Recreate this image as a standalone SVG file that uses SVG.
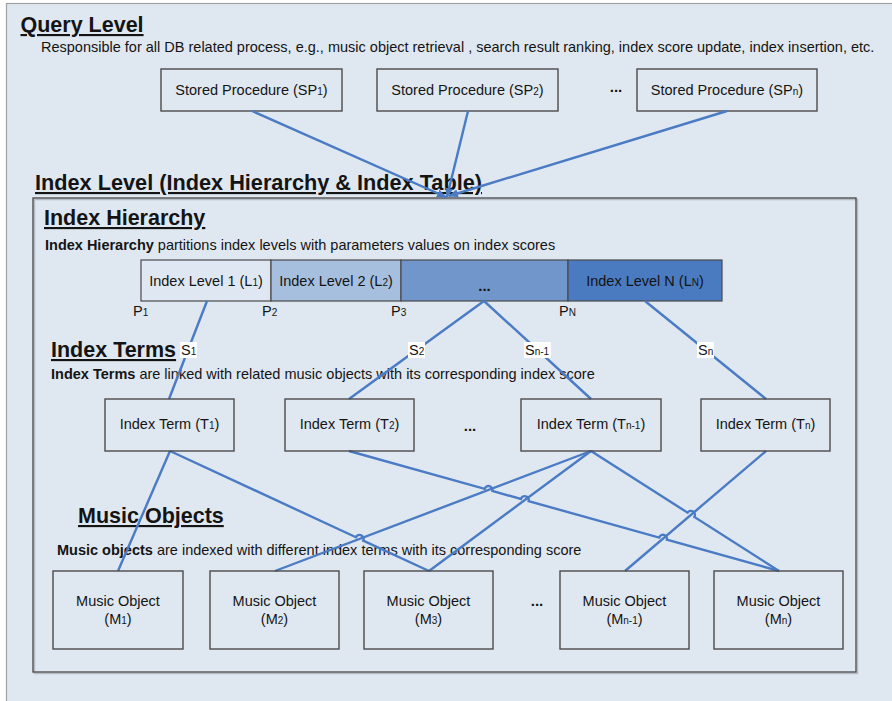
<svg xmlns="http://www.w3.org/2000/svg" width="892" height="701" viewBox="0 0 892 701">
<style>
text{font-family:"Liberation Sans",Arial,sans-serif;fill:#141414;}
.title{font-size:21.5px;font-weight:bold;text-decoration:underline;}
.sub{font-size:14.5px;}
.lbl{font-size:14.5px;text-anchor:middle;}
.s{font-size:10px;}
.b{font-weight:bold;}
.box{fill:none;stroke:#4a4a4a;stroke-width:1.4;}
.seg{stroke:#4a4a4a;stroke-width:1.2;}
.con{fill:none;stroke:#4a7bc4;stroke-width:2.4;}
.tag{fill:#ffffff;}
.dots{font-size:15px;font-weight:bold;text-anchor:middle;}
</style>
<defs>
<marker id="arr" viewBox="0 0 10 10" refX="9" refY="5" markerWidth="10" markerHeight="10" markerUnits="userSpaceOnUse" orient="auto">
<path d="M0,1 L10,5 L0,9 z" fill="#4a7bc4"/>
</marker>
</defs>
<rect x="0" y="0" width="892" height="701" fill="#ffffff"/>
<rect x="6.5" y="3.5" width="900" height="710" fill="#dfe8f1" stroke="#a0a0a0" stroke-width="1.2"/>

<g id="query-level">
<text class="title" x="20.5" y="32">Query Level</text>
<text class="sub" x="41" y="52">Responsible for all DB related process, e.g., music object retrieval , search result ranking, index score update, index insertion, etc.</text>
</g>

<g id="sp1"><rect class="box" x="161" y="69" width="181" height="42"/><text class="lbl" x="251.5" y="95">Stored Procedure (SP<tspan class="s">1</tspan>)</text></g>
<g id="sp2"><rect class="box" x="377" y="69" width="181" height="42"/><text class="lbl" x="467.5" y="95">Stored Procedure (SP<tspan class="s">2</tspan>)</text></g>
<g id="sp-dots"><text class="dots" x="616" y="92">...</text></g>
<g id="spn"><rect class="box" x="637" y="69" width="180" height="42"/><text class="lbl" x="727" y="95">Stored Procedure (SP<tspan class="s">n</tspan>)</text></g>

<g id="index-level">
<text class="title" x="35" y="190" textLength="447" lengthAdjust="spacingAndGlyphs">Index Level (Index Hierarchy &amp; Index Table)</text>
<rect x="34.5" y="199.5" width="823" height="474" fill="none" stroke="#b4bcc6" stroke-width="1.5"/>
<rect x="33" y="198" width="823" height="474" fill="none" stroke="#505050" stroke-width="1.4"/>
</g>

<g id="index-hierarchy">
<text class="title" x="44" y="225">Index Hierarchy</text>
<text class="sub" x="45" y="250"><tspan class="b">Index Hierarchy</tspan> partitions index levels with parameters values on index scores</text>
</g>

<g id="level-1"><rect class="seg" x="141" y="260" width="130" height="41" fill="#dfe8f2"/><text class="lbl" x="206" y="286">Index Level 1 (L<tspan class="s">1</tspan>)</text></g>
<g id="level-2"><rect class="seg" x="271" y="260" width="130" height="41" fill="#a6bfdf"/><text class="lbl" x="336" y="286">Index Level 2 (L<tspan class="s">2</tspan>)</text></g>
<g id="level-dots"><rect class="seg" x="401" y="260" width="167" height="41" fill="#7096cb"/><text class="dots" x="484.5" y="291">...</text></g>
<g id="level-n"><rect class="seg" x="568" y="260" width="154" height="41" fill="#4a7bc0"/><text class="lbl" x="645" y="286">Index Level N (L<tspan class="s">N</tspan>)</text></g>

<g id="p-labels">
<text class="sub" x="133" y="316">P<tspan class="s">1</tspan></text>
<text class="sub" x="262" y="316">P<tspan class="s">2</tspan></text>
<text class="sub" x="391" y="316">P<tspan class="s">3</tspan></text>
<text class="sub" x="559" y="316">P<tspan class="s">N</tspan></text>
</g>

<g id="index-terms">
<text class="title" x="51" y="357">Index Terms</text>
<text class="sub" x="51" y="379"><tspan class="b">Index Terms</tspan> are linked with related music objects with its corresponding index score</text>
</g>

<g id="music-objects">
<text class="title" x="78" y="523">Music Objects</text>
<text class="sub" x="57" y="555"><tspan class="b">Music objects</tspan> are indexed with different index terms with its corresponding score</text>
</g>

<g id="connectors">
<path class="con" d="M252,111 L446,197" marker-end="url(#arr)"/>
<path class="con" d="M468,111 L447,197" marker-end="url(#arr)"/>
<path class="con" d="M727,111 L449,196" marker-end="url(#arr)"/>
<path class="con" d="M207,301 L169,399"/>
<path class="con" d="M484,301 L349,399"/>
<path class="con" d="M484,301 L591,399"/>
<path class="con" d="M645,301 L766,399"/>
<path class="con" d="M170,451 L118,571"/>
<path class="con" d="M170,451 L355.97,537.22 A4,4 0 0 1 363.23,540.58 L429,571"/>
<path class="con" d="M349,451 L484.65,488.83 A4,4 0 0 1 492.35,490.98 L520.95,498.98 A4,4 0 0 1 528.65,501.13 L659.15,537.57 A4,4 0 0 1 666.85,539.72 L779,571"/>
<path class="con" d="M591,451 L275,571"/>
<path class="con" d="M591,451 L429,571"/>
<path class="con" d="M591,451 L687.63,512.68 A4,4 0 0 1 694.37,516.98 L779,571"/>
<path class="con" d="M766,451 L625,571"/>
</g>

<g id="score-labels">
<g id="s1"><rect class="tag" x="180" y="342" width="17" height="16"/><text class="sub" x="181" y="355">S<tspan class="s">1</tspan></text></g>
<g id="s2"><rect class="tag" x="408" y="342" width="17" height="16"/><text class="sub" x="409" y="355">S<tspan class="s">2</tspan></text></g>
<g id="sn-1"><rect class="tag" x="524" y="342" width="27" height="16"/><text class="sub" x="525" y="355">S<tspan class="s">n-1</tspan></text></g>
<g id="sn"><rect class="tag" x="697" y="342" width="17" height="16"/><text class="sub" x="698" y="355">S<tspan class="s">n</tspan></text></g>
</g>

<g id="t1"><rect class="box" x="105" y="399" width="129" height="52"/><text class="lbl" x="169.5" y="429">Index Term (T<tspan class="s">1</tspan>)</text></g>
<g id="t2"><rect class="box" x="285" y="399" width="129" height="52"/><text class="lbl" x="349.5" y="429">Index Term (T<tspan class="s">2</tspan>)</text></g>
<g id="t-dots"><text class="dots" x="470" y="431">...</text></g>
<g id="tn-1"><rect class="box" x="521" y="399" width="140" height="52"/><text class="lbl" x="591" y="429">Index Term (T<tspan class="s">n-1</tspan>)</text></g>
<g id="tn"><rect class="box" x="701" y="399" width="129" height="52"/><text class="lbl" x="765.5" y="429">Index Term (T<tspan class="s">n</tspan>)</text></g>

<g id="m1"><rect class="box" x="53" y="571" width="130" height="78"/><text class="lbl" x="118" y="606">Music Object</text><text class="lbl" x="118" y="624">(M<tspan class="s">1</tspan>)</text></g>
<g id="m2"><rect class="box" x="210" y="571" width="129" height="78"/><text class="lbl" x="274.5" y="606">Music Object</text><text class="lbl" x="274.5" y="624">(M<tspan class="s">2</tspan>)</text></g>
<g id="m3"><rect class="box" x="364" y="571" width="129" height="78"/><text class="lbl" x="428.5" y="606">Music Object</text><text class="lbl" x="428.5" y="624">(M<tspan class="s">3</tspan>)</text></g>
<g id="m-dots"><text class="dots" x="537" y="606">...</text></g>
<g id="mn-1"><rect class="box" x="560" y="571" width="129" height="78"/><text class="lbl" x="624.5" y="606">Music Object</text><text class="lbl" x="624.5" y="624">(M<tspan class="s">n-1</tspan>)</text></g>
<g id="mn"><rect class="box" x="714" y="571" width="129" height="78"/><text class="lbl" x="778.5" y="606">Music Object</text><text class="lbl" x="778.5" y="624">(M<tspan class="s">n</tspan>)</text></g>
</svg>
